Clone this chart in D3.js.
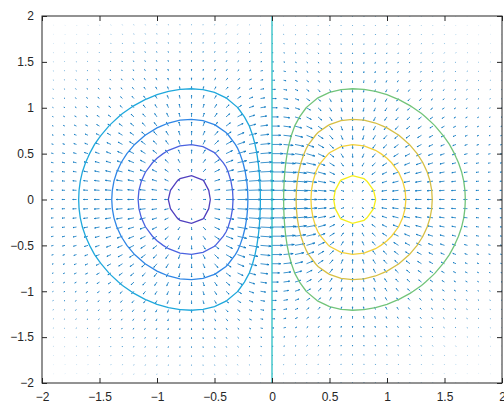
<!DOCTYPE html>
<html>
<head>
<meta charset="utf-8">
<script src="https://cdn.jsdelivr.net/npm/d3@7"></script>
<style>
  body { margin: 0; background: #fff; }
  text { font-family: "Liberation Sans", Arial, sans-serif; }
</style>
</head>
<body>
<div id="chart"></div>
<script>
// axis ticks
const xTicks = [-2, -1.5, -1, -0.5, 0, 0.5, 1, 1.5, 2];
const yTicks = [-2, -1.5, -1, -0.5, 0, 0.5, 1, 1.5, 2];

// sample grid (-2:0.1:2 in both directions)
const gridX = d3.range(-20, 21).map(i => i / 10);
const gridY = d3.range(-20, 21).map(i => i / 10);
const gridStep = 0.1;

// contour levels of the surface z = x * exp(-x^2 - y^2)
const contourLevels = [-0.4, -0.3, -0.2, -0.1, 0, 0.1, 0.2, 0.3, 0.4];
const levelColors = ['#5040bf', '#4a62e0', '#2f86e6', '#1fa8dc', '#2cbfc4',
                     '#72c47a', '#d6bf45', '#f2d03a', '#f5ee1c'];

const surface = (x, y) => x * Math.exp(-x * x - y * y);

// set up dimensions
const width = 504, height = 406;
const margin = {top: 16, right: 2, bottom: 23, left: 42};
const plotW = width - margin.left - margin.right;
const plotH = height - margin.top - margin.bottom;

const svg = d3.select('#chart')
    .append('svg')
    .attr('width', width)
    .attr('height', height);

const g = svg.append('g')
    .attr('transform', `translate(${margin.left},${margin.top})`);

const xScale = d3.scaleLinear().domain([-2, 2]).range([0, plotW]);
const yScale = d3.scaleLinear().domain([-2, 2]).range([plotH, 0]);

g.append('clipPath')
    .attr('id', 'plotClip')
    .append('rect')
    .attr('width', plotW)
    .attr('height', plotH);

// grid values, row major (row = y index)
const nx = gridX.length, ny = gridY.length;
const zValues = [];
gridY.forEach(y => gridX.forEach(x => zValues.push(surface(x, y))));

// quiver: numerical gradient like MATLAB's gradient()
const arrows = [];
let maxMag = 0;
for (let j = 0; j < ny; j++) {
    for (let i = 0; i < nx; i++) {
        const z = (ii, jj) => zValues[jj * nx + ii];
        let dx, dy;
        if (i === 0) dx = (z(1, j) - z(0, j)) / gridStep;
        else if (i === nx - 1) dx = (z(i, j) - z(i - 1, j)) / gridStep;
        else dx = (z(i + 1, j) - z(i - 1, j)) / (2 * gridStep);
        if (j === 0) dy = (z(i, 1) - z(i, 0)) / gridStep;
        else if (j === ny - 1) dy = (z(i, j) - z(i, j - 1)) / gridStep;
        else dy = (z(i, j + 1) - z(i, j - 1)) / (2 * gridStep);
        maxMag = Math.max(maxMag, Math.hypot(dx, dy));
        arrows.push({x: gridX[i], y: gridY[j], u: dx, v: dy});
    }
}

// MATLAB-style autoscale
const delx = 4 / nx, dely = 4 / ny;
const autoScale = 0.9 * Math.sqrt(delx * delx + dely * dely) / maxMag;
const headA = 0.25, headB = 0.33;

const arrowPath = d => {
    const u = d.u * autoScale, v = d.v * autoScale;
    const tx = d.x + u, ty = d.y + v;
    const h1x = tx - headA * (u + headB * v), h1y = ty - headA * (v - headB * u);
    const h2x = tx - headA * (u - headB * v), h2y = ty - headA * (v + headB * u);
    return `M${xScale(d.x)},${yScale(d.y)}L${xScale(tx)},${yScale(ty)}` +
           `M${xScale(h1x)},${yScale(h1y)}L${xScale(tx)},${yScale(ty)}L${xScale(h2x)},${yScale(h2y)}`;
};

g.append('g')
    .attr('class', 'quiver')
    .attr('clip-path', 'url(#plotClip)')
    .selectAll('path')
    .data(arrows)
    .enter()
    .append('path')
    .attr('d', arrowPath)
    .attr('fill', 'none')
    .attr('stroke', '#0072bd')
    .attr('stroke-opacity', 0.75)
    .attr('stroke-width', 1);

// contours
const contours = d3.contours()
    .size([nx, ny])
    .thresholds(contourLevels)(zValues);

// grid coordinate c corresponds to sample (c - 0.5)
const toX = c => xScale(gridX[0] + (c - 0.5) * gridStep);
const toY = c => yScale(gridY[0] + (c - 0.5) * gridStep);
const ringPath = ring => 'M' + ring.map(p => `${toX(p[0])},${toY(p[1])}`).join('L') + 'Z';

g.append('g')
    .attr('class', 'contours')
    .attr('clip-path', 'url(#plotClip)')
    .selectAll('path')
    .data(contours)
    .enter()
    .append('path')
    .attr('d', c => c.coordinates.map(poly => poly.map(ringPath).join('')).join(''))
    .attr('fill', 'none')
    .attr('stroke', c => levelColors[contourLevels.indexOf(c.value)])
    .attr('stroke-width', 1.3);

// axes
const axisColor = '#262626';
const styleAxis = sel => {
    sel.select('.domain').remove();
    sel.selectAll('line').attr('stroke', axisColor);
    sel.selectAll('text').attr('fill', axisColor).style('font-size', '12px');
};

g.append('g')
    .attr('transform', `translate(0,${plotH})`)
    .call(d3.axisBottom(xScale).tickValues(xTicks).tickSize(-5).tickPadding(9).tickFormat(d3.format('')))
    .call(styleAxis);

g.append('g')
    .call(d3.axisTop(xScale).tickValues(xTicks).tickSize(-5).tickFormat(''))
    .call(styleAxis);

g.append('g')
    .call(d3.axisLeft(yScale).tickValues(yTicks).tickSize(-5).tickPadding(8).tickFormat(d3.format('')))
    .call(styleAxis);

g.append('g')
    .attr('transform', `translate(${plotW},0)`)
    .call(d3.axisRight(yScale).tickValues(yTicks).tickSize(-5).tickFormat(''))
    .call(styleAxis);

// box
g.append('rect')
    .attr('width', plotW)
    .attr('height', plotH)
    .attr('fill', 'none')
    .attr('stroke', axisColor)
    .attr('stroke-width', 1);
</script>
</body>
</html>
